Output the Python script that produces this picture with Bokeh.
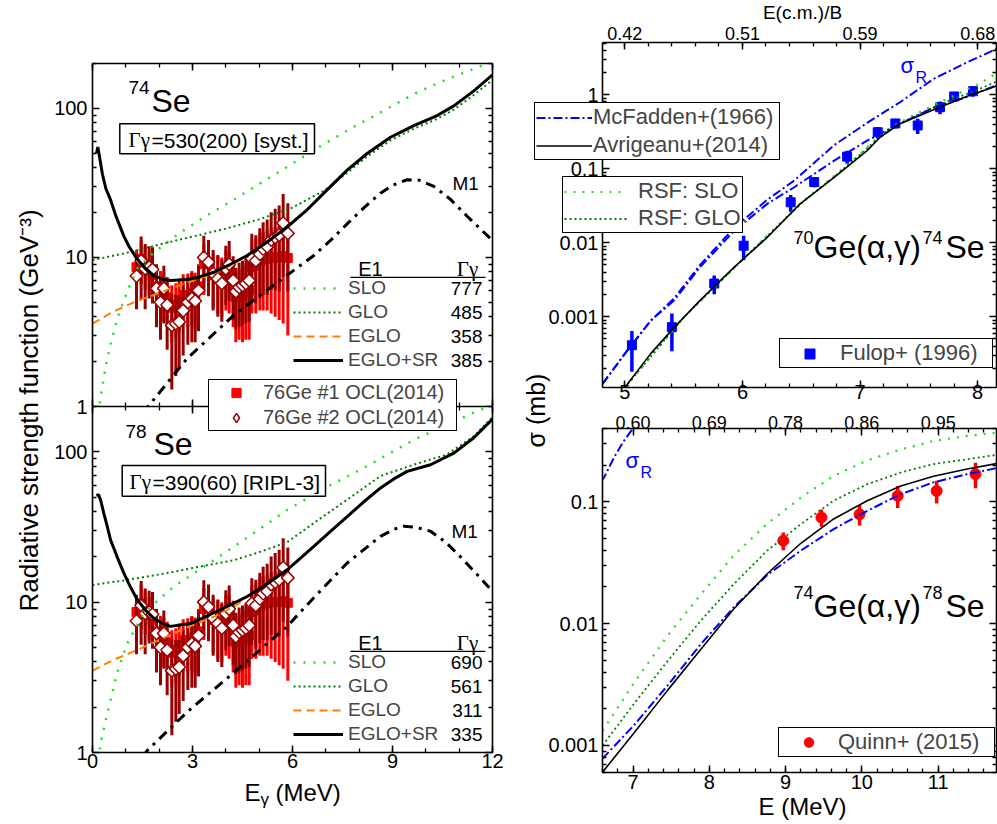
import math
from bokeh.plotting import figure
from bokeh.layouts import row, column
from bokeh.models import (Label, Legend, LegendItem, BoxAnnotation, LinearAxis, LogAxis,
                          FixedTicker, NumeralTickFormatter, Range1d, GridBox)
from bokeh.embed import file_html
from bokeh.resources import INLINE

SANS = "Liberation Sans"
SERIF = "Liberation Serif"
RED = "#ff0000"
DARKRED = "#990000"
LGREEN = "#22dd22"
DGREEN = "#008000"
ORANGE = "#ff8000"
BLUE = "#0000ff"
W, H = 997, 824

# ---------------- Oslo-method strength data (76Ge), shown in both Se panels ----------------
ocl_e = [1.32, 1.46, 1.58, 1.70, 1.80, 1.92, 2.04, 2.14, 2.24, 2.38,
         2.50, 2.60, 2.72, 2.86, 2.98, 3.08, 3.18, 3.34, 3.48, 3.62,
         3.76, 3.88, 4.00, 4.10, 4.22, 4.30, 4.40, 4.50, 4.60, 4.70,
         4.78, 4.90, 5.02, 5.12, 5.24, 5.36, 5.48, 5.60, 5.72, 5.86]
ocl1_f = [8.6, 9.8, 9.0, 8.2, 7.6, 6.4, 6.0, 5.8, 5.4, 4.6,
          4.8, 5.2, 5.6, 5.6, 5.8, 5.6, 6.4, 9.0, 9.0, 7.6,
          7.2, 7.0, 7.8, 7.6, 6.4, 5.4, 5.6, 5.6, 5.8, 6.0,
          8.6, 8.8, 9.4, 9.6, 9.8, 10.0, 10.0, 10.0, 10.2, 9.9]
ocl1_err = [2.6, 3.2, 2.9, 2.6, 2.4, 2.2, 2.1, 2.1, 2.0, 1.9,
            1.9, 2.0, 2.1, 2.2, 2.3, 2.3, 2.6, 3.4, 3.4, 3.0,
            3.0, 3.0, 3.4, 3.4, 3.0, 2.7, 2.8, 2.9, 3.0, 3.2,
            4.4, 4.6, 5.0, 5.2, 5.4, 5.8, 6.0, 6.2, 6.6, 6.9]
ocl2_f = [7.5, 9.5, 8.4, 8.6, 8.3, 6.2, 5.0, 6.2, 4.8, 3.5,
          3.6, 3.7, 4.4, 5.0, 5.3, 5.1, 6.0, 10.0, 9.3, 7.8,
          7.2, 6.7, 8.4, 9.0, 7.0, 5.9, 6.3, 6.5, 6.7, 7.0,
          9.8, 9.5, 10.5, 11.4, 11.8, 13.1, 13.6, 14.1, 17.0, 14.5]
ocl2_err = [3.0, 4.3, 3.9, 3.3, 3.4, 2.8, 2.2, 2.6, 2.4, 2.2,
            2.0, 1.9, 2.2, 2.4, 2.6, 2.4, 2.8, 4.0, 3.8, 3.4,
            3.2, 3.0, 3.6, 3.9, 3.2, 2.6, 2.9, 3.0, 3.1, 3.3,
            4.6, 4.6, 5.2, 5.8, 6.2, 7.0, 7.6, 8.2, 9.6, 8.6]

# ---------------- 74Se strength functions (GeV^-3) ----------------
slo74_e = [0.18, 0.24, 0.44, 0.74, 1.04, 1.34, 1.84, 2.64, 3.44, 4.24, 5.04, 5.84, 6.64,
           7.64, 8.64, 9.64, 10.64, 11.64, 12.0]
slo74_f = [0.9, 1.15, 2.1, 3.9, 5.9, 8.4, 10.8, 14.7, 19.2, 24.4, 31.5, 40.5, 52.5,
           71, 94, 125, 157, 192, 205]
glo74_e = [0.0, 1.0, 2.0, 3.0, 4.0, 5.0, 6.0, 6.94, 7.64, 8.24, 8.94, 9.64, 10.34, 10.84, 11.44, 12.0]
glo74_f = [9.6, 10.7, 12.2, 13.8, 15.6, 18.0, 21.6, 28.0, 37.0, 47.5, 61, 73, 85, 98, 123, 155]
eglo74_e = [0.0, 0.6, 1.24, 1.84, 2.44, 3.04, 3.64, 4.14, 4.64, 5.2, 5.84, 6.4, 6.94, 7.64,
            8.24, 8.94, 9.64, 10.34, 10.84, 11.44, 12.0]
eglo74_f = [3.6, 4.3, 5.0, 5.6, 6.3, 7.0, 7.8, 8.8, 10.3, 12.5, 16.0, 20.5, 27, 38.5,
            49.8, 64, 76.7, 89.5, 104, 131, 168]
sr74_e = [0.12, 0.16, 0.22, 0.3, 0.4, 0.54, 0.7, 0.94, 1.1, 1.34, 1.6, 1.84, 2.1, 2.34, 2.84,
          3.2, 3.64, 4.14, 4.64, 5.2, 5.84, 6.4, 6.94, 7.64, 8.24, 8.94, 9.64, 10.34, 10.84,
          11.44, 12.0]
sr74_f = [50, 55, 46, 36, 29, 24.4, 19, 13.9, 11.8, 9.75, 8.4, 7.55, 7.15, 7.0, 7.1,
          7.4, 7.95, 9.0, 10.3, 12.5, 16.0, 20.5, 27, 38.5, 49.8, 64, 76.7, 89.5, 104,
          131, 168]
m174_e = [1.5, 2.84, 4.24, 5.84, 6.64, 7.14, 7.64, 8.14, 8.64, 9.0, 9.44, 9.8, 10.24,
          10.74, 11.24, 11.64, 12.0]
m174_f = [0.9, 2.1, 4.1, 7.6, 10.3, 13.0, 16.8, 21.5, 27, 30.5, 33.2, 33.0, 30.0,
          24.5, 18.9, 15.5, 13.0]

# ---------------- 78Se strength functions (GeV^-3) ----------------
slo78_e = [0.18, 0.24, 0.44, 0.74, 1.04, 1.54, 2.44, 3.64, 4.84, 5.84, 7.14, 8.04, 9.64, 11.44, 12.0]
slo78_f = [0.9, 1.15, 1.8, 3.4, 5.3, 8.5, 12.7, 19.0, 28.8, 41, 60, 76, 120, 182, 205]
glo78_e = [0.0, 1.0, 2.24, 3.2, 4.24, 5.0, 5.84, 6.64, 7.64, 8.64, 9.64, 10.64, 11.44, 12.0]
glo78_f = [13.0, 14.0, 15.6, 17.2, 19.0, 21.5, 25, 33.6, 48, 69, 82, 96, 127, 170]
eglo78_e = [0.0, 0.6, 1.24, 1.84, 2.44, 3.04, 3.64, 4.34, 4.64, 5.24, 5.84, 6.64, 7.14,
            7.64, 8.14, 8.64, 9.04, 9.44, 10.14, 10.84, 11.44, 12.0]
eglo78_f = [3.5, 4.1, 4.7, 5.4, 6.2, 7.1, 8.0, 9.6, 10.9, 13.2, 16.4, 23.5, 29.5,
            37, 46.5, 57.5, 66, 74, 82, 98, 124, 165]
sr78_e = [0.12, 0.18, 0.24, 0.34, 0.44, 0.54, 0.74, 0.94, 1.14, 1.34, 1.6, 1.84, 2.1, 2.34,
          2.94, 3.64, 4.14, 4.64, 5.24, 5.84, 6.64, 7.14, 7.64, 8.14, 8.64, 9.04, 9.44,
          10.14, 10.84, 11.44, 12.0]
sr78_f = [51, 52, 48, 39, 32, 26, 20, 15.6, 12.6, 10.4, 8.8, 7.8, 7.2, 6.9,
          7.2, 8.5, 9.6, 10.9, 13.2, 16.4, 23.5, 29.5, 37, 46.5, 57.5, 66, 74,
          82, 98, 124, 165]
m178_e = [1.5, 1.64, 2.84, 4.24, 5.84, 6.24, 6.64, 7.64, 8.64, 9.04, 9.34, 9.7, 10.14,
          10.6, 11.04, 11.5, 12.0]
m178_f = [0.93, 1.03, 1.86, 3.4, 6.9, 8.6, 10.7, 18.2, 27.4, 30.5, 32, 31.5, 29.6,
          25, 20, 15.6, 11.8]

# E1 model names and total radiative widths (meV)
e1_models = ["SLO", "GLO", "EGLO", "EGLO+SR"]
gamma74 = [777, 485, 358, 385]
gamma78 = [690, 561, 311, 335]

# ---------------- 70Ge(a,g)74Se cross sections (mb) ----------------
fulop_e = [5.06, 5.40, 5.76, 6.01, 6.41, 6.61, 6.89, 7.15, 7.30, 7.49, 7.68, 7.80, 7.96]
fulop_s = [4.1e-4, 7.2e-4, 2.8e-3, 9.1e-3, 0.0352, 0.066, 0.146, 0.312, 0.41, 0.385, 0.68, 0.95, 1.12]
fulop_err = [2.3e-4, 3.8e-4, 0.8e-3, 3.3e-3, 0.009, 0.01, 0.029, 0.055, 0.06, 0.09, 0.135, 0.1, 0.18]
avr74_e = [4.98, 5.22, 5.42, 5.64, 5.93, 6.21, 6.49, 6.78, 7.06, 7.17, 7.34, 7.63, 7.91, 8.16]
avr74_s = [1.0e-4, 3.16e-4, 7.16e-4, 1.66e-3, 4.68e-3, 0.01175, 0.0335, 0.0767, 0.176, 0.267,
           0.407, 0.631, 0.955, 1.318]
mcf74_e = [4.81, 5.02, 5.22, 5.42, 5.64, 5.93, 6.21, 6.44, 6.78, 7.06, 7.34, 7.63, 7.91, 8.16]
mcf74_s = [1.23e-4, 3.47e-4, 8.81e-4, 1.66e-3, 4.68e-3, 0.01445, 0.0335, 0.0562, 0.1288, 0.24,
           0.407, 0.676, 0.933, 1.35]
sigr74_s = [1.23e-4, 3.47e-4, 8.81e-4, 1.78e-3, 5.01e-3, 0.01585, 0.038, 0.0692, 0.209, 0.417,
            0.794, 1.66, 2.75, 4.17]
rsf74_e = [5.0, 5.5, 6.0, 6.5, 6.8, 7.0, 7.2, 7.4, 7.6, 7.8, 8.0, 8.16]
rsf74_slo = [1.10e-4, 9.77e-4, 5.89e-3, 0.0347, 0.0851, 0.158, 0.316, 0.479, 0.692, 0.977, 1.38, 1.95]
rsf74_glo = [1.10e-4, 9.77e-4, 5.89e-3, 0.0339, 0.0832, 0.155, 0.302, 0.457, 0.646, 0.891, 1.17, 1.51]

# ---------------- 74Ge(a,g)78Se cross sections (mb) ----------------
quinn_e = [8.97, 9.47, 9.97, 10.47, 10.98, 11.49]
quinn_s = [0.048, 0.0744, 0.079, 0.112, 0.123, 0.169]
quinn_err = [0.008, 0.012, 0.015, 0.023, 0.026, 0.04]
r78_e = [6.6, 7.01, 7.45, 7.89, 8.32, 8.76, 9.2, 9.63, 10.07, 10.51, 10.94, 11.38, 11.765]
avr78_s = [6.03e-4, 1.26e-3, 2.82e-3, 6.17e-3, 0.0132, 0.0257, 0.0457, 0.0724, 0.102, 0.135,
           0.162, 0.186, 0.206]
mcf78_s = [7.8e-4, 1.46e-3, 3.09e-3, 6.81e-3, 0.0136, 0.0251, 0.0398, 0.0597, 0.0843, 0.1156,
           0.1445, 0.1687, 0.189]
slo78r_s = [1.32e-3, 3.24e-3, 7.94e-3, 0.0174, 0.0363, 0.0661, 0.1084, 0.1633, 0.2188, 0.2692,
            0.3162, 0.3475, 0.3698]
glo78r_s = [1.0e-3, 2.19e-3, 4.9e-3, 0.0106, 0.0211, 0.0398, 0.0656, 0.1023, 0.1396, 0.1738,
            0.2042, 0.2239, 0.2427]
sigr78_e = [6.58, 6.62, 6.75, 6.88, 6.99, 7.05]
sigr78_s = [0.148, 0.158, 0.231, 0.316, 0.394, 0.437]

# top-axis tick labels, E(c.m.)/B
ecm74_ticks = [5, 6, 7, 8]
ecm74_labels = ["0.42", "0.51", "0.59", "0.68"]
ecm78_ticks = [7, 8, 9, 10, 11]
ecm78_labels = ["0.60", "0.69", "0.78", "0.86", "0.95"]

# ---------------- helpers ----------------
FRAME = {}  # figure id -> (frame left, frame bottom) in page pixels
MID = 0.3465  # baseline-to-middle offset of Liberation fonts, in em


def make_fig(w, h, xr, yr, bl, br, bt, bb, frame_left, frame_bottom):
    p = figure(width=w, height=h, x_range=xr, y_range=yr, y_axis_type="log",
               output_backend="svg", toolbar_location=None,
               min_border_left=bl, min_border_right=br, min_border_top=bt, min_border_bottom=bb)
    p.xgrid.visible = False
    p.ygrid.visible = False
    p.outline_line_color = None
    p.background_fill_color = "white"
    p.border_fill_color = "white"
    FRAME[id(p)] = (frame_left, frame_bottom)
    return p


def style_axis(ax, ticks, minor, show=True, size=20, standoff=3, overrides=None, fmt=None):
    ax.ticker = FixedTicker(ticks=ticks, minor_ticks=minor)
    if fmt is not None:
        ax.formatter = fmt
    ax.axis_line_color = "black"
    ax.axis_line_width = 1.6
    ax.major_tick_line_color = "black"
    ax.minor_tick_line_color = "black"
    ax.major_tick_line_width = 1.5
    ax.minor_tick_line_width = 1.3
    ax.major_tick_in = 7
    ax.major_tick_out = 0
    ax.minor_tick_in = 4
    ax.minor_tick_out = 0
    ax.major_label_text_font = SANS
    ax.major_label_text_color = "black"
    if show:
        ax.major_label_text_font_size = f"{size}px"
        ax.major_label_standoff = standoff
        if overrides:
            ax.major_label_overrides = overrides
    else:
        ax.major_label_text_font_size = "0px"
        ax.major_label_text_color = None
        ax.major_label_standoff = 0


def text(p, X, Y, s, size, color="black", font=SANS, align="left", base=True, angle=0.0):
    """Label at page pixel (X, Y); Y is the text baseline when base is True, else its middle."""
    fl, fb = FRAME[id(p)]
    ym = Y - MID * size if base else Y
    p.add_layout(Label(x=X - fl, y=fb - ym, x_units="screen", y_units="screen",
                       text=s, text_font=font, text_font_size=f"{size}px",
                       text_color=color, text_align=align, text_baseline="middle",
                       angle=angle))


def box(p, X0, Y0, X1, Y1, lw=1.5, line="black", fill="white"):
    fl, fb = FRAME[id(p)]
    p.add_layout(BoxAnnotation(left=X0 - fl, right=X1 - fl, top=fb - Y0, bottom=fb - Y1,
                               left_units="screen", right_units="screen",
                               top_units="screen", bottom_units="screen",
                               fill_color=fill, fill_alpha=1.0,
                               line_color=line, line_alpha=1.0, line_width=lw))


def legend(p, items, X0, Y1, size, item_h, glyph_w, standoff, spacing, padding,
           label_w=20, framed=True):
    fl, fb = FRAME[id(p)]
    lg = Legend(items=items, location=(X0 - fl, fb - Y1), orientation="vertical",
                label_text_font=SANS, label_text_font_size=f"{size}px",
                label_height=item_h, glyph_height=item_h, glyph_width=glyph_w,
                label_standoff=standoff, spacing=spacing, padding=padding,
                label_width=label_w, margin=0, click_policy="none",
                border_line_color="black" if framed else None, border_line_width=1.5,
                border_line_alpha=1.0, inactive_fill_alpha=0.0,
                background_fill_color="white", background_fill_alpha=1.0 if framed else 0.0)
    p.add_layout(lg)


def errorbars(p, xs, ys, errs, color, width):
    lo = [y - e for y, e in zip(ys, errs)]
    hi = [y + e for y, e in zip(ys, errs)]
    p.segment(x0=xs, y0=lo, x1=xs, y1=hi, line_color=color, line_width=width)


def decade_minor(lo, hi):
    return [m * 10.0 ** d for d in range(lo, hi + 1) for m in range(2, 10)]


# ---------------- left column: strength functions ----------------
def strength_panel(p, slo, glo, eglo, sr, m1, show_bottom):
    x_major = [0, 3, 6, 9, 12]
    x_minor = list(range(0, 13))
    y_major = [1, 10, 100]
    y_minor = decade_minor(0, 2)
    fmt = NumeralTickFormatter(format="0")
    style_axis(p.xaxis[0], x_major, x_minor, show=show_bottom, size=20, standoff=1)
    style_axis(p.yaxis[0], y_major, y_minor, show=True, size=20, standoff=5, fmt=fmt,
               overrides={1: ""} if not show_bottom else None)
    top = LinearAxis()
    style_axis(top, x_major, x_minor, show=False)
    p.add_layout(top, "above")
    right = LogAxis()
    style_axis(right, y_major, y_minor, show=False)
    p.add_layout(right, "right")

    errorbars(p, ocl_e, ocl1_f, ocl1_err, RED, 3)
    p.scatter(ocl_e, ocl1_f, marker="square", size=9, fill_color=RED, line_color=RED)
    errorbars(p, ocl_e, ocl2_f, ocl2_err, DARKRED, 3)
    p.scatter(ocl_e, ocl2_f, marker="square", angle=math.pi / 4, size=9,
              fill_color="white", line_color=DARKRED, line_width=1.5)

    r_slo = p.line(*slo, line_color=LGREEN, line_width=2.5, line_dash="2 8")
    r_glo = p.line(*glo, line_color=DGREEN, line_width=2, line_dash="2 3")
    r_eglo = p.line(*eglo, line_color=ORANGE, line_width=2, line_dash="8 5")
    p.line(*m1, line_color="black", line_width=3, line_dash="10 6 3 6")
    r_sr = p.line(*sr, line_color="black", line_width=3)
    return (r_slo, r_glo, r_eglo, r_sr)


p1 = make_fig(504, 406, (0, 12), (1, 200), 92, 12, 63, 0, 92, 406)
mod_r1 = strength_panel(p1, (slo74_e, slo74_f), (glo74_e, glo74_f), (eglo74_e, eglo74_f),
                        (sr74_e, sr74_f), (m174_e, m174_f), False)
p2 = make_fig(504, 418, (0, 12), (1, 200), 92, 12, 0, 72, 92, 752)
mod_r2 = strength_panel(p2, (slo78_e, slo78_f), (glo78_e, glo78_f), (eglo78_e, eglo78_f),
                        (sr78_e, sr78_f), (m178_e, m178_f), True)

# nucleus titles and radiative-width boxes
text(p1, 128, 94, "74", 19)
text(p1, 151, 112, "Se", 32)
box(p1, 119.3, 123.3, 314, 153.3)
text(p1, 128, 147, "Γγ", 21, font=SERIF)
text(p1, 151, 147, "=530(200) [syst.]", 21)
text(p1, 452, 190, "M1", 19)

text(p2, 125, 438, "78", 19)
text(p2, 153, 455, "Se", 32)
box(p2, 121.7, 465, 325, 495.7)
text(p2, 129, 489, "Γγ", 21, font=SERIF)
text(p2, 152, 489, "=390(60) [RIPL-3]", 21)
text(p2, 451, 538, "M1", 19)

# E1 model tables
for p, mods, gam, top in ((p1, mod_r1, gamma74, 277), (p2, mod_r2, gamma78, 651)):
    text(p, 370, top - 9, "E1", 20, align="center", base=False)
    text(p, 467, top - 9, "Γγ", 21, font=SERIF, align="center", base=False)
    box(p, 350, top - 0.8, 485, top + 0.6, lw=0, line=None, fill="black")
    items = [LegendItem(label=name, renderers=[r]) for name, r in zip(e1_models, mods)]
    legend(p, items, 293, top + 94, 19, 22, 50, 5, 2, 0, framed=False)
    for k, g in enumerate(gam):
        text(p, 482, top + 11 + 24 * k, str(g), 19, align="right", base=False)

# ---------------- right column: capture cross sections ----------------
fmt_s = NumeralTickFormatter(format="0.[000]")

p3 = make_fig(493, 407, (4.81, 8.16), (1.1e-4, 5.1), 98, 1, 42, 20, 602, 387)
minor3 = [round(4.8 + 0.2 * i, 2) for i in range(18)]
style_axis(p3.xaxis[0], [5, 6, 7, 8], minor3, size=20, standoff=-3)
style_axis(p3.yaxis[0], [0.001, 0.01, 0.1, 1], decade_minor(-4, 0), size=20, standoff=4, fmt=fmt_s)
ax = LinearAxis()
style_axis(ax, ecm74_ticks, minor3, size=18, standoff=3,
           overrides=dict(zip(ecm74_ticks, ecm74_labels)))
p3.add_layout(ax, "above")
ax = LogAxis()
style_axis(ax, [0.001, 0.01, 0.1, 1], decade_minor(-4, 0), show=False)
p3.add_layout(ax, "right")

errorbars(p3, fulop_e, fulop_s, fulop_err, BLUE, 3.5)
r_ful = p3.scatter(fulop_e, fulop_s, marker="square", size=9, fill_color=BLUE, line_color=BLUE)
p3.line(rsf74_e, rsf74_slo, line_color=LGREEN, line_width=2.2, line_dash="2 7")
p3.line(rsf74_e, rsf74_glo, line_color=DGREEN, line_width=1.8, line_dash="2 3")
p3.line(mcf74_e, sigr74_s, line_color=BLUE, line_width=2, line_dash="9 3 2 3")
p3.line(mcf74_e, mcf74_s, line_color=BLUE, line_width=2, line_dash="9 3 2 3")
p3.line(avr74_e, avr74_s, line_color="black", line_width=1.6)

text(p3, 900, 73, "σ", 22, color=BLUE)
text(p3, 915, 83, "R", 16, color=BLUE)
text(p3, 793, 243, "70", 18)
text(p3, 813, 258, "Ge(α,γ)", 32)
text(p3, 922, 243, "74", 18)
text(p3, 945, 258, "Se", 32)
legend(p3, [LegendItem(label="Fulop+ (1996)", renderers=[r_ful])],
       779, 368, 22, 25, 57, 2, 0, 1, label_w=151)

p4 = make_fig(493, 417, (6.6, 11.765), (6.0e-4, 0.4), 98, 1, 21, 52, 602, 772)
minor4 = [round(6.6 + 0.2 * i, 2) for i in range(27)]
style_axis(p4.xaxis[0], [7, 8, 9, 10, 11], minor4, size=20, standoff=2)
style_axis(p4.yaxis[0], [0.001, 0.01, 0.1], decade_minor(-4, -1), size=20, standoff=4, fmt=fmt_s)
ax = LinearAxis()
style_axis(ax, ecm78_ticks, minor4, size=18, standoff=0,
           overrides=dict(zip(ecm78_ticks, ecm78_labels)))
p4.add_layout(ax, "above")
ax = LogAxis()
style_axis(ax, [0.001, 0.01, 0.1], decade_minor(-4, -1), show=False)
p4.add_layout(ax, "right")

errorbars(p4, quinn_e, quinn_s, quinn_err, RED, 3.5)
r_qui = p4.scatter(quinn_e, quinn_s, marker="circle", size=11, fill_color=RED, line_color=RED)
p4.line(r78_e, slo78r_s, line_color=LGREEN, line_width=2.2, line_dash="2 7")
p4.line(r78_e, glo78r_s, line_color=DGREEN, line_width=1.8, line_dash="2 3")
p4.line(sigr78_e, sigr78_s, line_color=BLUE, line_width=2, line_dash="9 3 2 3")
p4.line(r78_e, mcf78_s, line_color=BLUE, line_width=2, line_dash="9 3 2 3")
p4.line(r78_e, avr78_s, line_color="black", line_width=1.6)

text(p4, 625, 468, "σ", 22, color=BLUE)
text(p4, 640, 478, "R", 16, color=BLUE)
text(p4, 793, 598, "74", 18)
text(p4, 813, 617, "Ge(α,γ)", 32)
text(p4, 922, 598, "78", 18)
text(p4, 945, 617, "Se", 32)
legend(p4, [LegendItem(label="Quinn+ (2015)", renderers=[r_qui])],
       778, 757, 22, 24, 57, 1, 0, 1, label_w=155)

# ---------------- transparent page-wide layer for titles and legends that cross panels ----------------
ov = figure(width=W, height=H, x_range=Range1d(0, W), y_range=Range1d(0, H),
            x_axis_location=None, y_axis_location=None, min_border=0,
            output_backend="svg", toolbar_location=None)
ov.xgrid.visible = False
ov.ygrid.visible = False
ov.outline_line_color = None
ov.background_fill_color = None
ov.border_fill_color = None
FRAME[id(ov)] = (0, H)

text(ov, 28, 410, "Radiative strength function (GeV⁻³)", 26, align="center", base=False,
     angle=math.pi / 2)
text(ov, 87, 406, "1", 20, align="right", base=False)
text(ov, 244, 800, "E", 24)
text(ov, 260, 805, "γ", 17)
text(ov, 275, 800, "(MeV)", 24)
text(ov, 535, 410, "σ (mb)", 25, align="center", base=False, angle=math.pi / 2)
text(ov, 802, 19, "E(c.m.)/B", 19, align="center")
text(ov, 802, 814, "E (MeV)", 24, align="center")

# legend keys: hidden copies of the panel glyphs, drawn only as legend samples
k_red = ov.scatter(ocl_e, ocl1_f, marker="square", size=9, fill_color=RED, line_color=RED,
                   visible=False)
k_dia = ov.scatter(ocl_e, ocl2_f, marker="diamond", size=14,
                   fill_color="white", line_color=DARKRED, line_width=1.5, visible=False)
k_mcf = ov.line(mcf74_e, mcf74_s, line_color=BLUE, line_width=2, line_dash="9 3 2 3",
                visible=False)
k_avr = ov.line(avr74_e, avr74_s, line_color="black", line_width=1.6, visible=False)
k_slo = ov.line(rsf74_e, rsf74_slo, line_color=LGREEN, line_width=2.2, line_dash="2 7",
                visible=False)
k_glo = ov.line(rsf74_e, rsf74_glo, line_color=DGREEN, line_width=1.8, line_dash="2 3",
                visible=False)

legend(ov, [LegendItem(label="76Ge #1 OCL(2014)", renderers=[k_red]),
            LegendItem(label="76Ge #2 OCL(2014)", renderers=[k_dia])],
       208, 431, 20, 23, 52, 1, 2, 1, label_w=192)
legend(ov, [LegendItem(label="McFadden+(1966)", renderers=[k_mcf]),
            LegendItem(label="Avrigeanu+(2014)", renderers=[k_avr])],
       534, 160, 22, 25, 56, 1, 2, 1, label_w=185)
legend(ov, [LegendItem(label="RSF: SLO", renderers=[k_slo]),
            LegendItem(label="RSF: GLO", renderers=[k_glo])],
       562, 233, 22, 25, 63, 11, 1, 1, label_w=101)

panels = row(column(p1, p2), column(p3, p4))
page = GridBox(children=[(panels, 0, 0), (ov, 0, 0)])
open("out.html", "w").write(file_html(page, INLINE, "Se strength functions"))
